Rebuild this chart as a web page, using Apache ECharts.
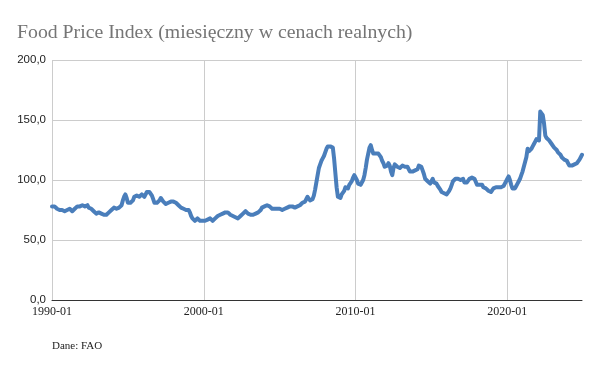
<!DOCTYPE html>
<html>
<head>
<meta charset="utf-8">
<script src="https://cdn.jsdelivr.net/npm/echarts@6/dist/echarts.min.js"></script>
<style>html,body{margin:0;padding:0;background:#fff}#c{width:600px;height:371px}</style>
</head>
<body>
<div id="c"></div>
<script>
const titleText = 'Food Price Index (miesięczny w cenach realnych)';
const sourceText = 'Dane: FAO';
const startYear = 1990;
const endYear = 2024;
const yTicks = [0, 50, 100, 150, 200];

const v1990 = [78, 79, 78, 77, 76, 75, 75, 74, 75, 75, 74, 75];
const v1991 = [75, 75, 76, 75, 74, 75, 76, 77, 78, 79, 78, 78];
const v1992 = [79, 79, 78, 78, 79, 77, 77, 76, 75, 74, 73, 72];
const v1993 = [72, 73, 73, 72, 71, 71, 71, 71, 72, 73, 74, 75];
const v1994 = [76, 77, 77, 76, 77, 77, 78, 79, 83, 86, 88, 85];
const v1995 = [81, 80, 81, 81, 83, 86, 86, 87, 86, 86, 87, 88];
const v1996 = [87, 86, 88, 90, 91, 90, 89, 87, 84, 81, 82, 81];
const v1997 = [81, 83, 85, 84, 82, 81, 80, 81, 81, 81, 82, 82];
const v1998 = [82, 82, 81, 80, 79, 78, 77, 76, 76, 76, 75, 75];
const v1999 = [75, 73, 70, 68, 67, 66, 67, 68, 67, 66, 65, 66];
const v2000 = [66, 66, 67, 67, 68, 68, 67, 66, 67, 68, 69, 70];
const v2001 = [70, 71, 72, 72, 72, 73, 74, 73, 72, 71, 71, 70];
const v2002 = [70, 69, 68, 68, 69, 70, 71, 72, 73, 74, 73, 72];
const v2003 = [71, 71, 71, 71, 71, 72, 72, 73, 74, 75, 77, 78];
const v2004 = [78, 79, 79, 78, 78, 77, 76, 76, 76, 77, 76, 76];
const v2005 = [76, 75, 75, 76, 76, 76, 77, 77, 78, 78, 78, 77];
const v2006 = [77, 77, 78, 78, 79, 80, 81, 81, 82, 84, 86, 85];
const v2007 = [83, 84, 84, 87, 92, 98, 104, 110, 113, 116, 118, 120];
const v2008 = [121, 126, 128, 127, 128, 129, 127, 118, 106, 94, 86, 87];
const v2009 = [85, 88, 89, 91, 94, 95, 93, 96, 97, 99, 102, 104];
const v2010 = [104, 100, 97, 96, 96, 97, 100, 104, 110, 117, 122, 127];
const v2011 = [129, 125, 122, 122, 122, 123, 122, 121, 119, 116, 114, 111];
const v2012 = [110, 112, 114, 112, 107, 104, 110, 113, 112, 111, 111, 110];
const v2013 = [111, 112, 112, 111, 112, 111, 110, 107, 106, 107, 108, 108];
const v2014 = [108, 109, 112, 112, 111, 108, 105, 101, 100, 99, 99, 97];
const v2015 = [98, 101, 98, 97, 97, 95, 94, 92, 90, 90, 89, 88];
const v2016 = [88, 89, 91, 93, 96, 99, 100, 101, 101, 101, 101, 100];
const v2017 = [100, 101, 98, 97, 98, 99, 101, 102, 102, 101, 101, 100];
const v2018 = [96, 95, 96, 97, 96, 94, 93, 93, 92, 91, 90, 90];
const v2019 = [91, 93, 93, 94, 95, 94, 94, 94, 94, 95, 97, 99];
const v2020 = [101, 103, 100, 96, 93, 92, 93, 95, 97, 99, 101, 104];
const v2021 = [107, 111, 115, 119, 126, 124, 123, 126, 128, 130, 132, 134];
const v2022 = [134, 133, 157, 156, 154, 147, 137, 135, 134, 133, 132, 130];
const v2023 = [131, 127, 126, 125, 123, 122, 121, 119, 118, 117, 117, 116];
const v2024 = [114, 112, 111, 112, 113, 113, 114, 114, 115, 117, 119, 121];

const values = [].concat(v1990, v1991, v1992, v1993, v1994, v1995, v1996, v1997, v1998, v1999,
  v2000, v2001, v2002, v2003, v2004, v2005, v2006, v2007, v2008, v2009,
  v2010, v2011, v2012, v2013, v2014, v2015, v2016, v2017, v2018, v2019,
  v2020, v2021, v2022, v2023, v2024);

const categories = [];
for (let y = startYear; y <= endYear; y++) {
  for (let m = 1; m <= 12; m++) categories.push(y + '-' + (m < 10 ? '0' + m : m));
}

const chart = echarts.init(document.getElementById('c'), null, {renderer: 'canvas'});
chart.setOption({
  animation: false,
  backgroundColor: '#fff',
  title: [{
    text: titleText,
    left: 17, top: 23, padding: 0,
    textStyle: {fontFamily: 'Liberation Serif', fontSize: 19.8, fontWeight: 'normal', color: '#757575'}
  }, {
    text: sourceText,
    left: 52, top: 341, padding: 0,
    textStyle: {fontFamily: 'Liberation Serif', fontSize: 11, fontWeight: 'normal', color: '#222'}
  }],
  grid: {left: 52, right: 18, top: 60, bottom: 71, containLabel: false},
  xAxis: {
    type: 'category',
    data: categories,
    boundaryGap: false,
    axisLine: {show: true, lineStyle: {color: '#333', width: 1}},
    axisTick: {show: false},
    axisLabel: {
      interval: 119, margin: 6,
      fontFamily: 'Liberation Serif', fontSize: 12, color: '#222'
    },
    splitLine: {show: true, interval: 119, lineStyle: {color: '#cccccc', width: 1}}
  },
  yAxis: {
    type: 'value',
    min: yTicks[0], max: yTicks[yTicks.length - 1], interval: 50,
    axisLine: {show: false},
    axisTick: {show: false},
    axisLabel: {
      margin: 6,
      fontFamily: 'Liberation Sans', fontSize: 11.5, color: '#222',
      formatter: v => v.toFixed(1).replace('.', ',')
    },
    splitLine: {show: true, lineStyle: {color: '#cccccc', width: 1}}
  },
  series: [{
    type: 'line',
    data: values,
    showSymbol: false,
    smooth: false,
    lineStyle: {color: '#4a7ebb', width: 4, cap: 'round', join: 'round'},
    itemStyle: {color: '#4a7ebb'}
  }]
});
</script>
</body>
</html>
